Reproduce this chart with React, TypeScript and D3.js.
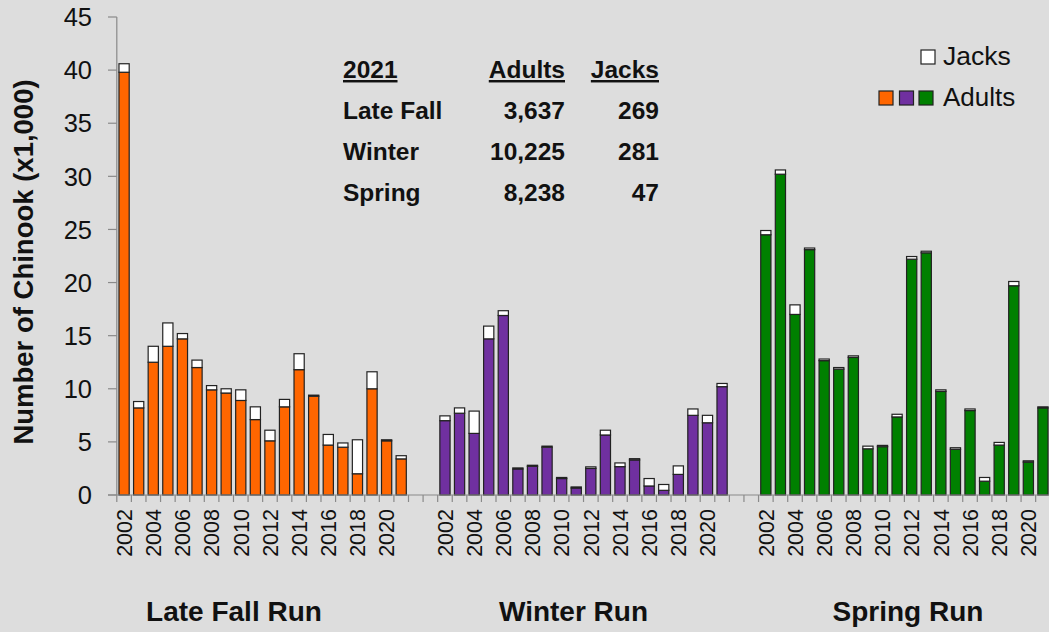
import { useEffect, useRef } from 'react';
import * as d3 from 'd3';

const years = ['2002', '2003', '2004', '2005', '2006', '2007', '2008', '2009', '2010', '2011',
  '2012', '2013', '2014', '2015', '2016', '2017', '2018', '2019', '2020', '2021'];
const labelYears = ['2002', '2004', '2006', '2008', '2010', '2012', '2014', '2016', '2018', '2020'];

const runs = ['Late Fall', 'Winter', 'Spring'];
const runLabels = ['Late Fall Run', 'Winter Run', 'Spring Run'];
const runColors = ['#FF6600', '#7030A0', '#008000'];

const lateFallAdults = [39.8, 8.2, 12.5, 14.0, 14.7, 12.0, 9.9, 9.6, 8.9, 7.1, 5.1, 8.3, 11.8, 9.3, 4.7, 4.5, 2.0, 10.0, 5.1, 3.4];
const lateFallJacks = [0.8, 0.6, 1.5, 2.2, 0.5, 0.7, 0.4, 0.4, 1.0, 1.2, 1.0, 0.7, 1.5, 0.1, 1.0, 0.4, 3.2, 1.6, 0.1, 0.3];

const winterAdults = [7.0, 7.7, 5.8, 14.7, 16.9, 2.45, 2.7, 4.5, 1.55, 0.66, 2.5, 5.65, 2.67, 3.3, 0.85, 0.44, 1.94, 7.5, 6.8, 10.2];
const winterJacks = [0.45, 0.5, 2.1, 1.2, 0.45, 0.1, 0.1, 0.1, 0.1, 0.1, 0.15, 0.45, 0.35, 0.12, 0.7, 0.55, 0.8, 0.6, 0.7, 0.3];

const springAdults = [24.5, 30.2, 17.0, 23.1, 12.65, 11.85, 12.95, 4.35, 4.55, 7.35, 22.2, 22.8, 9.75, 4.3, 7.95, 1.3, 4.7, 19.7, 3.1, 8.2];
const springJacks = [0.4, 0.4, 0.9, 0.15, 0.15, 0.15, 0.15, 0.25, 0.12, 0.25, 0.25, 0.15, 0.15, 0.15, 0.15, 0.35, 0.25, 0.4, 0.12, 0.1];

const yTicks = [0, 5, 10, 15, 20, 25, 30, 35, 40, 45];

// 2021 summary table
const tableRuns = ['Late Fall', 'Winter', 'Spring'];
const tableAdults = ['3,637', '10,225', '8,238'];
const tableJacks = ['269', '281', '47'];

const W = 1049;
const H = 632;
const FONT = '"Liberation Sans", Arial, sans-serif';

export default function App() {
  const svgRef = useRef<SVGSVGElement>(null);

  useEffect(() => {
    if (!svgRef.current) return;
    const svg = d3.select(svgRef.current);
    svg.selectAll('*').remove();

    const adults = [lateFallAdults, winterAdults, springAdults];
    const jacks = [lateFallJacks, winterJacks, springJacks];

    // one long category axis, two empty slots between runs
    const keys: string[] = [];
    runs.forEach((r, i) => {
      years.forEach(y => keys.push(`${r}|${y}`));
      if (i < runs.length - 1) keys.push(`gap${i}a`, `gap${i}b`);
    });

    const step = 14.585;
    const x0 = 116.8;
    const x = d3.scaleBand<string>()
      .domain(keys)
      .range([x0, x0 + step * keys.length])
      .paddingInner(0.3)
      .paddingOuter(0.15);

    const y = d3.scaleLinear().domain([0, 45]).range([495, 17]);

    svg.append('rect').attr('width', W).attr('height', H).attr('fill', '#DDDDDD');

    // y axis
    const ya = svg.append('g');
    ya.append('line')
      .attr('x1', x0).attr('x2', x0)
      .attr('y1', y(45)).attr('y2', y(0))
      .attr('stroke', '#8a8a8a').attr('stroke-width', 1.2);
    ya.selectAll('.yt').data(yTicks).enter().append('line')
      .attr('x1', 108).attr('x2', x0)
      .attr('y1', d => y(d)).attr('y2', d => y(d))
      .attr('stroke', '#8a8a8a').attr('stroke-width', 1.2);
    ya.selectAll('.yl').data(yTicks).enter().append('text')
      .attr('x', 92).attr('y', d => y(d))
      .attr('dy', '0.36em')
      .attr('text-anchor', 'end')
      .attr('font-family', FONT).attr('font-size', 25.5).attr('fill', '#111')
      .text(d => d);

    svg.append('text')
      .attr('transform', 'translate(33,262) rotate(-90)')
      .attr('text-anchor', 'middle')
      .attr('font-family', FONT).attr('font-size', 27.5).attr('font-weight', 'bold').attr('fill', '#111')
      .text('Number of Chinook (x1,000)');

    // bars
    runs.forEach((r, ri) => {
      const g = svg.append('g');
      const rows = years.map((yr, i) => ({ key: `${r}|${yr}`, a: adults[ri][i], j: jacks[ri][i] }));
      g.selectAll('.adult').data(rows).enter().append('rect')
        .attr('x', d => x(d.key)!)
        .attr('y', d => y(d.a))
        .attr('width', x.bandwidth())
        .attr('height', d => y(0) - y(d.a))
        .attr('fill', runColors[ri])
        .attr('stroke', '#222').attr('stroke-width', 1.2);
      g.selectAll('.jack').data(rows).enter().append('rect')
        .attr('x', d => x(d.key)!)
        .attr('y', d => y(d.a + d.j))
        .attr('width', x.bandwidth())
        .attr('height', d => y(d.a) - y(d.a + d.j))
        .attr('fill', '#fff')
        .attr('stroke', '#222').attr('stroke-width', 1.2);
    });

    // x axis
    const xa = svg.append('g');
    const off = (x.step() - x.bandwidth()) / 2;
    const bounds = keys.map(k => x(k)! - off).concat([x(keys[keys.length - 1])! + x.bandwidth() + off]);
    xa.append('line')
      .attr('x1', 108).attr('x2', W)
      .attr('y1', y(0)).attr('y2', y(0))
      .attr('stroke', '#8a8a8a').attr('stroke-width', 1.2);
    xa.selectAll('.xt').data(bounds).enter().append('line')
      .attr('x1', d => d).attr('x2', d => d)
      .attr('y1', y(0)).attr('y2', y(0) + 7)
      .attr('stroke', '#8a8a8a').attr('stroke-width', 1.2);
    runs.forEach(r => {
      xa.selectAll(null).data(labelYears).enter().append('text')
        .attr('transform', d => `translate(${x(`${r}|${d}`)! + x.bandwidth() / 2},509) rotate(-90)`)
        .attr('dy', '0.36em')
        .attr('text-anchor', 'end')
        .attr('font-family', FONT).attr('font-size', 21.5).attr('fill', '#111')
        .text(d => d);
    });

    // run labels
    const runLabelX = [234, 573.5, 908];
    svg.selectAll('.rl').data(runLabels).enter().append('text')
      .attr('x', (_, i) => runLabelX[i]).attr('y', 621)
      .attr('text-anchor', 'middle')
      .attr('font-family', FONT).attr('font-size', 28).attr('font-weight', 'bold').attr('fill', '#111')
      .text(d => d);

    // 2021 table
    const t = svg.append('g')
      .attr('font-family', FONT).attr('font-size', 24.5).attr('font-weight', 'bold').attr('fill', '#111');
    const rowY = [118.5, 160, 201];
    t.append('text').attr('x', 343).attr('y', 78).attr('text-decoration', 'underline').text('2021');
    t.append('text').attr('x', 565).attr('y', 78).attr('text-anchor', 'end').attr('text-decoration', 'underline').text('Adults');
    t.append('text').attr('x', 659).attr('y', 78).attr('text-anchor', 'end').attr('text-decoration', 'underline').text('Jacks');
    tableRuns.forEach((r, i) => {
      t.append('text').attr('x', 343).attr('y', rowY[i]).text(r);
      t.append('text').attr('x', 565).attr('y', rowY[i]).attr('text-anchor', 'end').text(tableAdults[i]);
      t.append('text').attr('x', 659).attr('y', rowY[i]).attr('text-anchor', 'end').text(tableJacks[i]);
    });

    // legend
    const lg = svg.append('g');
    lg.append('rect').attr('x', 921).attr('y', 50).attr('width', 14).attr('height', 14)
      .attr('fill', '#fff').attr('stroke', '#222').attr('stroke-width', 1.2);
    lg.append('text').attr('x', 943).attr('y', 65)
      .attr('font-family', FONT).attr('font-size', 26.5).attr('fill', '#111').text('Jacks');
    const boxX = [879, 899.5, 919];
    lg.selectAll('.lb').data(runColors).enter().append('rect')
      .attr('x', (_, i) => boxX[i]).attr('y', 91).attr('width', 14).attr('height', 14)
      .attr('fill', d => d).attr('stroke', '#222').attr('stroke-width', 1.2);
    lg.append('text').attr('x', 943).attr('y', 106)
      .attr('font-family', FONT).attr('font-size', 26).attr('fill', '#111').text('Adults');
  }, []);

  return (
    <div style={{ position: 'fixed', left: 0, top: 0 }}>
      <svg ref={svgRef} width={W} height={H} viewBox={`0 0 ${W} ${H}`} style={{ display: 'block' }} />
    </div>
  );
}
